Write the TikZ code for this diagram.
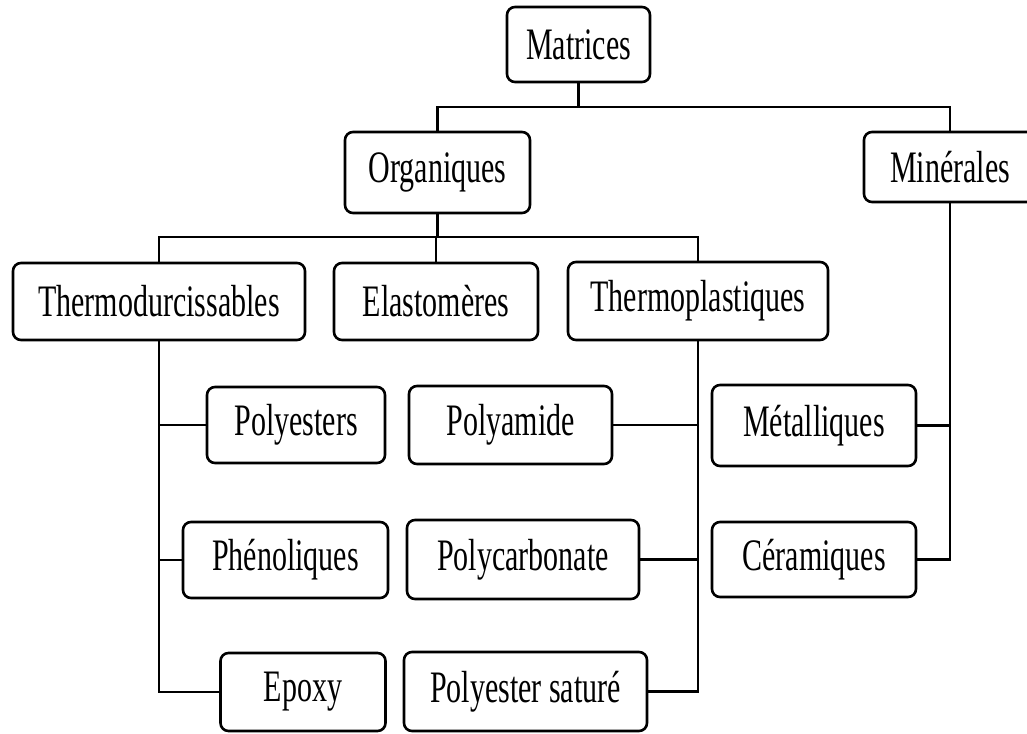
\documentclass[tikz,border=0pt]{standalone}
\usepackage{graphicx}
\usepackage{fontspec}
\setmainfont{Liberation Serif}
\newcommand{\vstretch}[1]{\scalebox{1}[1.5]{#1}}
\begin{document}
\begin{tikzpicture}[x=1pt,y=-1pt,
  box/.style={draw, line width=2.6pt, rounded corners=8pt, inner sep=0pt,
    fill=white, font=\fontsize{30}{36}\selectfont},
  conn/.style={line width=2.6pt}]
\useasboundingbox (0,0) rectangle (1027,733);
\clip (0,0) rectangle (1027,733);
\fill[white] (0,0) rectangle (1027,733);

% nodes
\node[box, minimum width=143pt, minimum height=75pt] (mat) at (578.5,44.5) {\vstretch{Matrices}};
\node[box, minimum width=185pt, minimum height=81pt] (org) at (437.5,172.5) {\vstretch{Organiques}};
\node[box, minimum width=172pt, minimum height=70pt] (min) at (950,167) {\vstretch{Minérales}};

\node[box, minimum width=292pt, minimum height=77pt] (thd) at (159,301.5) {\vstretch{Thermodurcissables}};
\node[box, minimum width=204pt, minimum height=77pt] (ela) at (436,301.5) {\vstretch{Elastomères}};
\node[box, minimum width=260pt, minimum height=78pt] (thp) at (698,301) {\vstretch{Thermoplastiques}};

\node[box, minimum width=178pt, minimum height=76pt] (pes) at (296,425) {\vstretch{Polyesters}};
\node[box, minimum width=203pt, minimum height=78pt] (pam) at (510.5,425) {\vstretch{Polyamide}};
\node[box, minimum width=204pt, minimum height=81pt] (met) at (814,425.5) {\vstretch{Métalliques}};

\node[box, minimum width=205pt, minimum height=76pt] (phe) at (285.5,560) {\vstretch{Phénoliques}};
\node[box, minimum width=232pt, minimum height=79pt] (pca) at (523,559.5) {\vstretch{Polycarbonate}};
\node[box, minimum width=204pt, minimum height=75pt] (cer) at (814,559.5) {\vstretch{Céramiques}};

\node[box, minimum width=165pt, minimum height=78pt] (epo) at (303,692) {\vstretch{Epoxy}};
\node[box, minimum width=243pt, minimum height=79pt] (psa) at (525.5,691.5) {\vstretch{Polyester saturé}};

% connector levels
\coordinate (h1) at (0,107);
\coordinate (h2) at (0,237);

\draw[conn] (mat.south) -- (mat.south |- h1);
\draw[conn] (org.north) -- (org.north |- h1) -- (min.north |- h1) -- (min.north);

\draw[conn] (org.south) -- (org.south |- h2);
\draw[conn] (thd.north) -- (thd.north |- h2) -- (thp.north |- h2) -- (thp.north);
\draw[conn] (ela.north) -- (ela.north |- h2);

\draw[conn] (thd.south) -- (thd.south |- epo.west) -- (epo.west);
\draw[conn] (pes.west) -- (pes.west -| thd.south);
\draw[conn] (phe.west) -- (phe.west -| thd.south);

\draw[conn] (thp.south) -- (thp.south |- psa.east) -- (psa.east);
\draw[conn] (pam.east) -- (pam.east -| thp.south);
\draw[conn] (pca.east) -- (pca.east -| thp.south);

\draw[conn] (min.south) -- (min.south |- cer.east) -- (cer.east);
\draw[conn] (met.east) -- (met.east -| min.south);
\end{tikzpicture}
\end{document}
